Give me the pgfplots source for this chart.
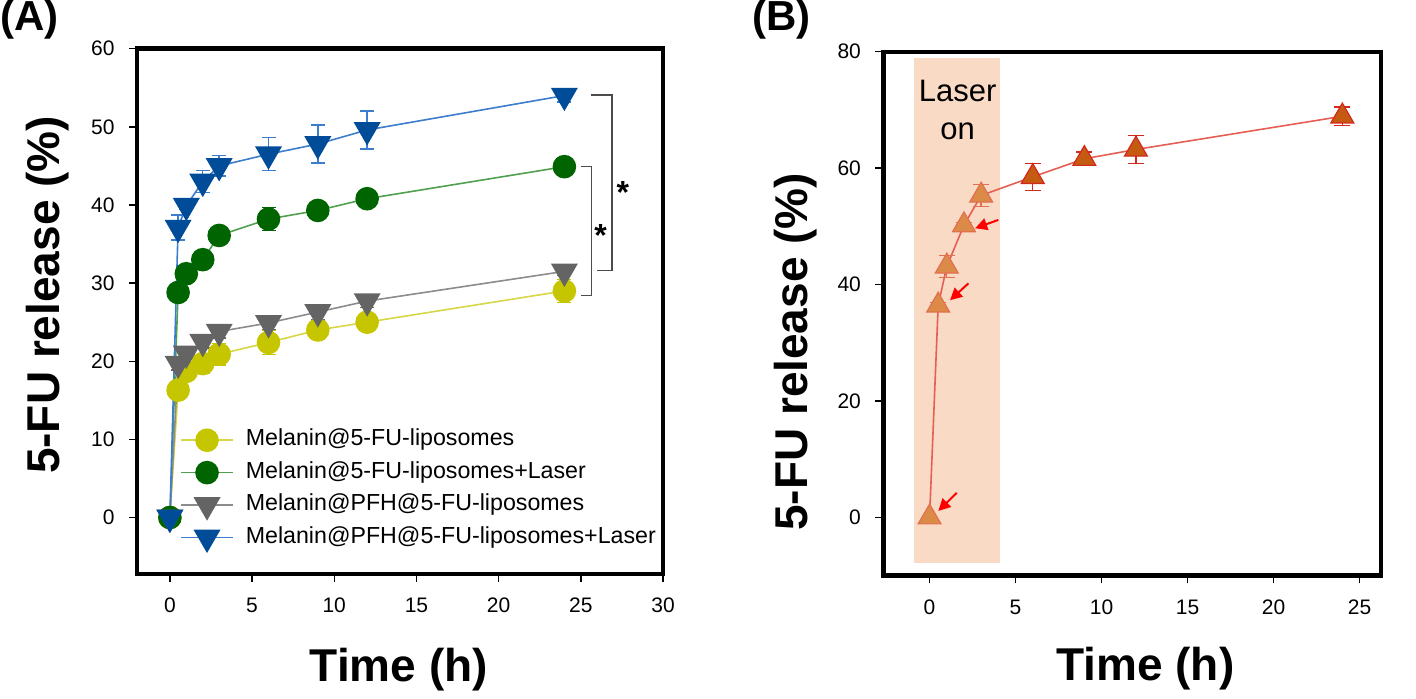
\documentclass[border=0pt]{standalone}
\usepackage{fontspec}
\setmainfont{Liberation Sans}
\usepackage{pgfplots}
\pgfplotsset{compat=1.18}
\usetikzlibrary{arrows.meta}
\definecolor{cYel}{RGB}{198,198,0}
\definecolor{cYelL}{RGB}{214,214,70}
\definecolor{cGrn}{RGB}{0,100,0}
\definecolor{cGrnL}{RGB}{80,160,80}
\definecolor{cGry}{RGB}{100,100,100}
\definecolor{cGryL}{RGB}{140,140,140}
\definecolor{cBlu}{RGB}{0,76,153}
\definecolor{cBluL}{RGB}{60,125,205}
\definecolor{cOrg}{RGB}{197,90,17}
\definecolor{cOrgL}{RGB}{220,138,72}
\definecolor{cRedE}{RGB}{210,40,30}
\definecolor{cRedEL}{RGB}{226,112,80}
\definecolor{cRedL}{RGB}{230,95,85}
\definecolor{cPeachS}{RGB}{249,218,196}
\pgfplotsset{
  common/.style={
    scale only axis, clip=false,
    tick align=outside, xtick pos=bottom, ytick pos=left,
    major tick length=4pt,
    tick style={black, line width=0.7pt},
    axis line style={line width=2.2pt},
    /pgf/number format/assume math mode=true,
    tick label style={font=\fontsize{10.5}{12}\selectfont},
    xticklabel style={anchor=north, inner sep=0pt, yshift=-8pt},
    yticklabel style={anchor=east, inner sep=0pt, xshift=-7pt},
    label style={font=\bfseries\fontsize{23}{27}\selectfont},
  }
}
\begin{document}
\begin{tikzpicture}
\useasboundingbox (0,0) rectangle (708pt,349.5pt);
\node[anchor=north west, inner sep=0pt, font=\bfseries\fontsize{21}{24}\selectfont] at (0pt,349.5pt) {(A)};
\node[anchor=north west, inner sep=0pt, font=\bfseries\fontsize{21}{24}\selectfont] at (376pt,349.5pt) {(B)};
\begin{axis}[common,
  at={(68.5pt,62.6pt)}, anchor=south west,
  width=263pt, height=262.55pt,
  xmin=-2, xmax=30, ymin=-7.2, ymax=60,
  xtick={0,5,...,30}, ytick={0,10,...,60},
  xlabel={Time (h)}, ylabel={5-FU release (\%)},
  xlabel style={at={(axis description cs:0.498,-0.2057)}, anchor=base},
  ylabel style={at={(axis description cs:-0.17,0.531)}, anchor=center},
  legend cell align=left,
  legend style={at={(axis description cs:0.07,0.03)}, anchor=south west, draw=none, fill=none,
    font=\fontsize{11.6}{13}\selectfont, row sep=0pt,
    nodes={text height=7.9pt, text depth=2.3pt, inner sep=3pt},
    /tikz/every odd column/.append style={column sep=3pt}},
  legend image code/.code={\draw[#1, mark repeat=2, mark phase=2] plot coordinates {(0pt,0pt) (13pt,0pt) (26pt,0pt)};},
]
\addplot[cYelL, line width=0.8pt, mark=*, mark size=5.5pt, mark options={fill=cYel, draw=cYel, solid},
  error bars/.cd, y dir=both, y explicit, error bar style={cYel, line width=0.7pt},
  error mark options={rotate=90, mark size=3.5pt, cYel, line width=0.7pt}]
  coordinates {(0,0) +- (0,0) (0.5,16.3) +- (0,1.0) (1,18.7) +- (0,1.0) (2,19.7) +- (0,1.2) (3,20.9) +- (0,1.4)
   (6,22.4) +- (0,1.5) (9,24.0) +- (0,1.2) (12,25.0) +- (0,1.0) (24,29.0) +- (0,1.5)};
\addlegendentry{Melanin@5-FU-liposomes}
\addplot[cGrnL, line width=0.8pt, mark=*, mark size=5.5pt, mark options={fill=cGrn, draw=cGrn, solid},
  error bars/.cd, y dir=both, y explicit, error bar style={cGrn, line width=0.7pt},
  error mark options={rotate=90, mark size=3.5pt, cGrn, line width=0.7pt}]
  coordinates {(0,0) +- (0,0) (0.5,28.8) +- (0,0.8) (1,31.2) +- (0,0.8) (2,33.0) +- (0,1.0) (3,36.1) +- (0,0.8)
   (6,38.2) +- (0,1.5) (9,39.3) +- (0,1.1) (12,40.8) +- (0,0.8) (24,44.9) +- (0,0.5)};
\addlegendentry{Melanin@5-FU-liposomes+Laser}
\addplot[cGryL, line width=0.8pt, mark=triangle*, mark size=7pt, mark options={fill=cGry, draw=cGry, solid, rotate=180},
  error bars/.cd, y dir=both, y explicit, error bar style={cGry, line width=0.7pt},
  error mark options={rotate=90, mark size=3.5pt, cGry, line width=0.7pt}]
  coordinates {(0,0) +- (0,0) (0.5,19.7) +- (0,0.8) (1,21.0) +- (0,0.8) (2,22.5) +- (0,0.8) (3,23.8) +- (0,0.8)
   (6,24.9) +- (0,0.8) (9,26.3) +- (0,1.0) (12,27.7) +- (0,0.8) (24,31.5) +- (0,0.5)};
\addlegendentry{Melanin@PFH@5-FU-liposomes}
\addplot[cBluL, line width=0.8pt, mark=triangle*, mark size=7pt, mark options={fill=cBlu, draw=cBlu, solid, rotate=180},
  error bars/.cd, y dir=both, y explicit, error bar style={cBluL, line width=0.7pt},
  error mark options={rotate=90, mark size=3.5pt, cBluL, line width=0.7pt}]
  coordinates {(0,0) +- (0,0) (0.5,37.1) +- (0,1.6) (1,39.9) +- (0,0.5) (2,43.0) +- (0,1.4) (3,45.0) +- (0,1.3)
   (6,46.5) +- (0,2.1) (9,47.8) +- (0,2.45) (12,49.6) +- (0,2.45) (24,54.0) +- (0,0.8)};
\addlegendentry{Melanin@PFH@5-FU-liposomes+Laser}
\draw[black!70, line width=0.7pt] (axis cs:25.6,54.05) -- (axis cs:26.9,54.05) -- (axis cs:26.9,31.6) -- (axis cs:26.0,31.6);
\draw[black!70, line width=0.7pt] (axis cs:25.0,44.9) -- (axis cs:25.64,44.9) -- (axis cs:25.64,28.4) -- (axis cs:25.0,28.4);
\node[font=\bfseries\fontsize{16}{18}\selectfont, inner sep=0pt, anchor=center] at (axis cs:27.56,41.6) {*};
\node[font=\bfseries\fontsize{16}{18}\selectfont, inner sep=0pt, anchor=center] at (axis cs:26.2,36.1) {*};
\end{axis}
\begin{axis}[common,
  at={(441.65pt,61.75pt)}, anchor=south west,
  width=248.85pt, height=261.9pt,
  xmin=-2.69, xmax=26.25, ymin=-10, ymax=80,
  xtick={0,5,...,25}, ytick={0,20,...,80},
  xlabel={Time (h)}, ylabel={5-FU release (\%)},
  xlabel style={at={(axis description cs:0.5265,-0.2)}, anchor=base},
  ylabel style={at={(axis description cs:-0.177,0.427)}, anchor=center},
]
\addplot[draw=none, fill=cPeachS] coordinates {(-0.88,-7.9) (4.12,-7.9) (4.12,79.0) (-0.88,79.0)} -- cycle;
\addplot[cRedL, line width=0.8pt, no marks]
  coordinates {(0,0) (0.5,36.4) (1,43.1) (2,50.2) (3,55.3) (6,58.5) (9,61.6) (12,63.2) (24,68.9)};
\addplot[only marks, mark=triangle*, mark size=6.6pt, mark options={fill=cOrg, draw=cRedE, solid, line width=0.6pt},
  error bars/.cd, y dir=both, y explicit, error bar style={cRedE, line width=0.7pt},
  error mark options={rotate=90, mark size=4pt, cRedE, line width=0.7pt}]
  coordinates {(6,58.5) +- (0,2.3) (9,61.6) +- (0,1.2) (12,63.2) +- (0,2.4) (24,68.9) +- (0,1.6)};
\addplot[only marks, mark=triangle*, mark size=6.6pt, mark options={fill=cOrgL, draw=cRedEL, solid, line width=0.6pt},
  error bars/.cd, y dir=both, y explicit, error bar style={cRedEL, line width=0.7pt},
  error mark options={rotate=90, mark size=4pt, cRedEL, line width=0.7pt}]
  coordinates {(0,0) +- (0,0) (0.5,36.4) +- (0,0.5) (1,43.1) +- (0,1.9) (2,50.2) +- (0,0.5) (3,55.3) +- (0,1.9)};
\node[anchor=base, font=\fontsize{15.5}{19}\selectfont] at (axis cs:1.63,71.5) {Laser};
\node[anchor=base, font=\fontsize{15.5}{19}\selectfont] at (axis cs:1.63,65.0) {on};
\draw[red, line width=1pt, -{Triangle[length=6pt,width=6pt]}] (axis cs:4.0,51.1) -- (axis cs:2.65,49.66);
\draw[red, line width=1pt, -{Triangle[length=6pt,width=6pt]}] (axis cs:2.26,40.2) -- (axis cs:1.19,37.3);
\draw[red, line width=1pt, -{Triangle[length=6pt,width=6pt]}] (axis cs:1.58,4.2) -- (axis cs:0.51,1.1);
\end{axis}
\end{tikzpicture}
\end{document}
